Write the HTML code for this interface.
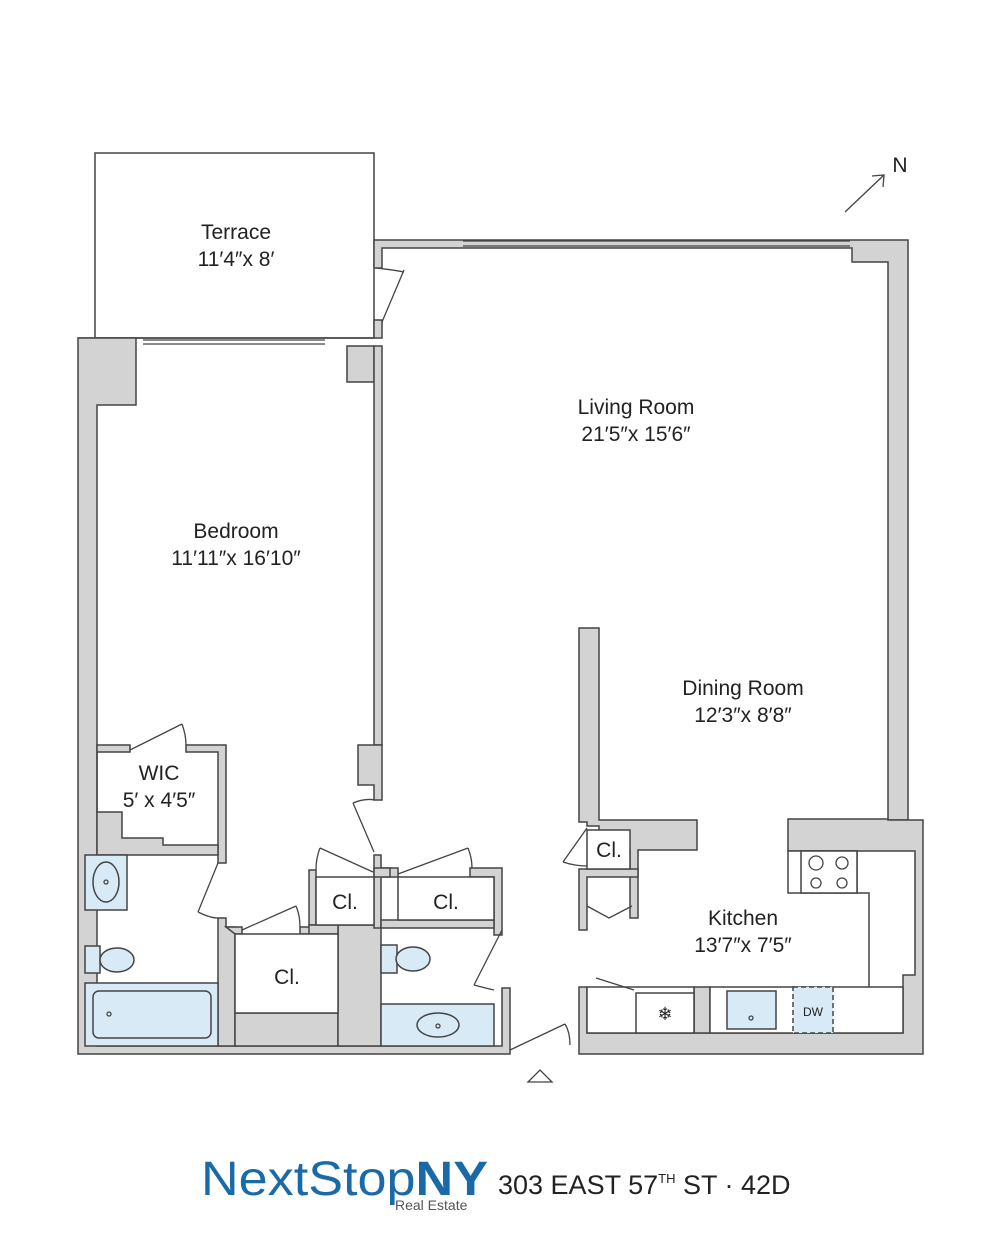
<!DOCTYPE html>
<html><head><meta charset="utf-8"><style>
body{margin:0;background:#fff;width:1000px;height:1236px;overflow:hidden}
svg{display:block}
text{font-family:"Liberation Sans",sans-serif;fill:#222}
</style></head><body>
<svg width="1000" height="1236" viewBox="0 0 1000 1236">
<g stroke="#444" stroke-width="1.5" fill="#d3d3d3">
<rect x="95" y="153" width="279" height="185" fill="#fff"/>
<path d="M374 240 H908 V820 H888 V262 H852 V248 H382 V268 H374 Z"/>
<path d="M888 820 H923 V1054 H579 V987 H587 V1033 H903 V975 H915 V851 H788 V819 H888 Z"/>
<path d="M78 338 H382 V320 H374 V338 Z"/>
<path d="M78 338 H136 V405 H97 V1046 H502 V988 H510 V1054 H78 Z"/>
<path d="M347 346 H374 V382 H347 Z"/>
<path d="M374 346 H382 V745 H374 Z"/>
<path d="M358 745 H382 V800 H374 V785 H358 Z"/>
<path d="M97 745 H130 V752 H97 Z"/>
<path d="M186 745 H226 V863 H218 V752 H186 Z"/>
<path d="M97 752 V855 H218 V845 H163 V838 H122 V812 H97 Z"/>
<path d="M218 918 H226 V927 H235 V1046 H218 Z"/>
<path d="M226 927 H242 V934 H235 Z"/>
<path d="M300 927 H338 V1046 H235 V1013 H338 V934 H300 Z"/>
<path d="M338 925 H381 V1046 H338 Z"/>
<path d="M309 870 H316 V925 H309 Z"/>
<path d="M309 925 H338 V934 H309 Z"/>
<path d="M374 855 H381 V868 H398 V877 H381 V928 H374 Z"/>
<path d="M374 868 H390 V877 H374 Z"/>
<path d="M470 868 H502 V935 H494 V877 H470 Z"/>
<path d="M381 920 H494 V928 H381 Z"/>
<path d="M579 628 H599 V820 H697 V850 H638 V918 H630 V850 H599 V826 H587 V822 H579 Z"/>
<path d="M579 869 H638 V877 H587 V930 H579 Z"/>
<path d="M694 987 H710 V1033 H694 Z"/>
</g>
<g stroke="#444" stroke-width="1.5" fill="#fff">
<rect x="235" y="934" width="103" height="79"/>
<rect x="316" y="877" width="58" height="48"/>
<rect x="398" y="877" width="96" height="43"/>
<rect x="587" y="830" width="43" height="39"/>
<path d="M587 987 H694 V1033 H587 Z"/>
<path d="M710 987 H903 V1033 H710 Z"/>
<rect x="636" y="993" width="58" height="40"/>
<path d="M855 893 H869 V987"/>
<rect x="788" y="851" width="69" height="42"/>
<rect x="801" y="851" width="56" height="42"/>
</g>
<g stroke="#444" stroke-width="1.5" fill="#d8eaf6">
<rect x="85" y="855" width="42" height="55"/>
<ellipse cx="106" cy="882" rx="13" ry="20"/>
<rect x="85" y="946" width="15" height="27"/>
<ellipse cx="117" cy="960" rx="17" ry="12"/>
<rect x="85" y="983" width="133" height="63"/>
<rect x="93" y="991" width="118" height="47" rx="6"/>
<rect x="381" y="945" width="16" height="28"/>
<ellipse cx="413" cy="959" rx="17" ry="12"/>
<rect x="381" y="1004" width="113" height="42"/>
<ellipse cx="438" cy="1025" rx="21" ry="12"/>
<rect x="727" y="991" width="49" height="38"/>
<rect x="793" y="987" width="40" height="46" stroke-dasharray="5,3"/>
</g>
<g fill="none" stroke="#444" stroke-width="1.3">
<circle cx="109" cy="1014" r="2"/><circle cx="106" cy="882" r="2"/><circle cx="438" cy="1026" r="2"/><circle cx="751" cy="1018" r="2"/>
<circle cx="816" cy="863" r="7"/><circle cx="842" cy="863" r="6"/><circle cx="816" cy="883" r="5"/><circle cx="842" cy="883" r="5"/>
<path d="M463 241 H850 M463 246 H850 M143 340 H325 M143 344 H325"/>
<path d="M382 322 L404 270 M376 268 Q395 270 404 272"/>
<path d="M130 750 L182 724 M182 724 Q186 735 186 745"/>
<path d="M218 863 L198 912 M198 912 Q210 918 218 918"/>
<path d="M242 930 L296 906 M296 906 Q300 915 300 927"/>
<path d="M353 803 L374 852 M353 803 Q365 798 375 800"/>
<path d="M320 848 L373 872 M320 848 Q316 858 316 870"/>
<path d="M398 874 L468 848 M468 848 Q472 858 472 868"/>
<path d="M502 930 L474 985 M474 985 Q485 988 494 990"/>
<path d="M510 1050 L565 1024 M565 1024 Q570 1032 570 1045"/>
<path d="M587 828 L563 862 M563 862 Q575 866 587 866"/>
<path d="M587 906 L609 918 L632 906"/>
<path d="M596 978 L634 990"/>
<path d="M845 212 L884 175 M872 176 L884 175 L883 187"/>
<path d="M528 1082 L540 1070 L552 1082 Z"/>
</g>
<text x="665" y="1020" font-size="18" text-anchor="middle">❄</text>
<g font-size="21" text-anchor="middle">
<text x="236" y="239">Terrace</text><text x="236" y="266">11′4″x 8′</text>
<text x="636" y="414">Living Room</text><text x="636" y="441">21′5″x 15′6″</text>
<text x="236" y="538">Bedroom</text><text x="236" y="565">11′11″x 16′10″</text>
<text x="743" y="695">Dining Room</text><text x="743" y="722">12′3″x 8′8″</text>
<text x="743" y="925">Kitchen</text><text x="743" y="952">13′7″x 7′5″</text>
<text x="159" y="780">WIC</text><text x="159" y="807">5′ x 4′5″</text>
<text x="345" y="909">Cl.</text><text x="446" y="909">Cl.</text><text x="287" y="984">Cl.</text><text x="609" y="857">Cl.</text>
<text x="900" y="172">N</text>
</g>
<text x="813" y="1016" font-size="12" text-anchor="middle">DW</text>
<text x="201" y="1195" font-size="48" textLength="287" lengthAdjust="spacingAndGlyphs" style="fill:#1a6aa8">NextStop<tspan font-weight="bold">NY</tspan></text>
<text x="395" y="1210" font-size="14" style="fill:#555">Real Estate</text>
<text x="498" y="1194" font-size="27" style="fill:#222">303 EAST 57<tspan font-size="13" dy="-11">TH</tspan><tspan dy="11"> ST · 42D</tspan></text>
</svg>
</body></html>
